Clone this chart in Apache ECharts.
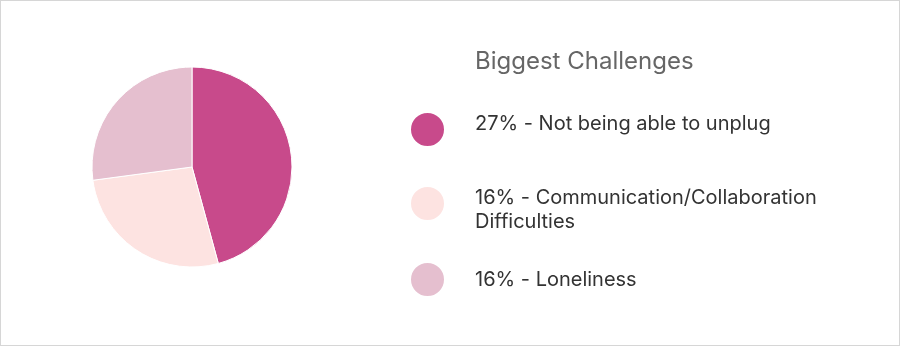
<!DOCTYPE html>
<html>
<head>
<meta charset="utf-8">
<script src="https://cdn.jsdelivr.net/npm/echarts@6/dist/echarts.min.js"></script>
<style>
  html, body { margin: 0; padding: 0; background: #fff; }
  #chart { width: 900px; height: 346px; box-sizing: border-box; border: 1px solid #d6d6d6; }
</style>
</head>
<body>
<div id="chart"></div>
<script>
// Survey answers: share of respondents naming each challenge
const categories = [
  'Not being able to unplug',
  'Communication/Collaboration\nDifficulties',
  'Loneliness'
];
const percents = [27, 16, 16];
const colors = ['#c84a8b', '#fde3e1', '#e5bfcf'];
const chartTitle = 'Biggest Challenges';

const chart = echarts.init(document.getElementById('chart'), null, { renderer: 'canvas' });

const seriesData = categories.map((name, i) => ({
  name: name,
  value: percents[i],
  itemStyle: { color: colors[i] }
}));

const pctOf = {};
categories.forEach((c, i) => { pctOf[c] = percents[i]; });

// Spacer lines above/below nudge each label against its dot
const spacerAbove = [0, 12, 0];
const spacerBelow = [11, 0, 0];

function legendLabel(name, i) {
  const lines = (pctOf[name] + '% - ' + name).split('\n').map(l => '{t|' + l + '}');
  if (spacerAbove[i]) lines.unshift('{s' + i + 'a| }');
  if (spacerBelow[i]) lines.push('{s' + i + 'b| }');
  return lines.join('\n');
}

const rich = { t: { fontFamily: 'Inter', fontSize: 20, color: '#333', lineHeight: 24 } };
spacerAbove.forEach((h, i) => { if (h) rich['s' + i + 'a'] = { fontSize: 1, lineHeight: h }; });
spacerBelow.forEach((h, i) => { if (h) rich['s' + i + 'b'] = { fontSize: 1, lineHeight: h }; });

// One legend block per category so each row sits at its own height
const legendTops = [110, 172.5, 260];
const legends = categories.map((name, i) => ({
  data: [name],
  orient: 'vertical',
  left: 408,
  top: legendTops[i],
  padding: 0,
  icon: 'circle',
  itemWidth: 35,
  itemHeight: 35,
  selectedMode: false,
  formatter: n => legendLabel(n, i),
  textStyle: {
    fontFamily: 'Inter',
    fontSize: 20,
    color: '#333',
    lineHeight: 24,
    padding: [0, 0, 0, 25],
    rich: rich
  }
}));

chart.setOption({
  animation: false,
  title: {
    text: chartTitle,
    left: 469,
    top: 44,
    textStyle: { fontFamily: 'Inter', fontSize: 24, fontWeight: 'normal', color: '#666' }
  },
  legend: legends,
  series: [{
    type: 'pie',
    center: [191, 166],
    radius: [0, 100],
    startAngle: 90,
    clockwise: true,
    label: { show: false },
    labelLine: { show: false },
    emphasis: { disabled: true },
    itemStyle: { borderColor: '#fff', borderWidth: 1 },
    data: seriesData
  }]
});
</script>
</body>
</html>
